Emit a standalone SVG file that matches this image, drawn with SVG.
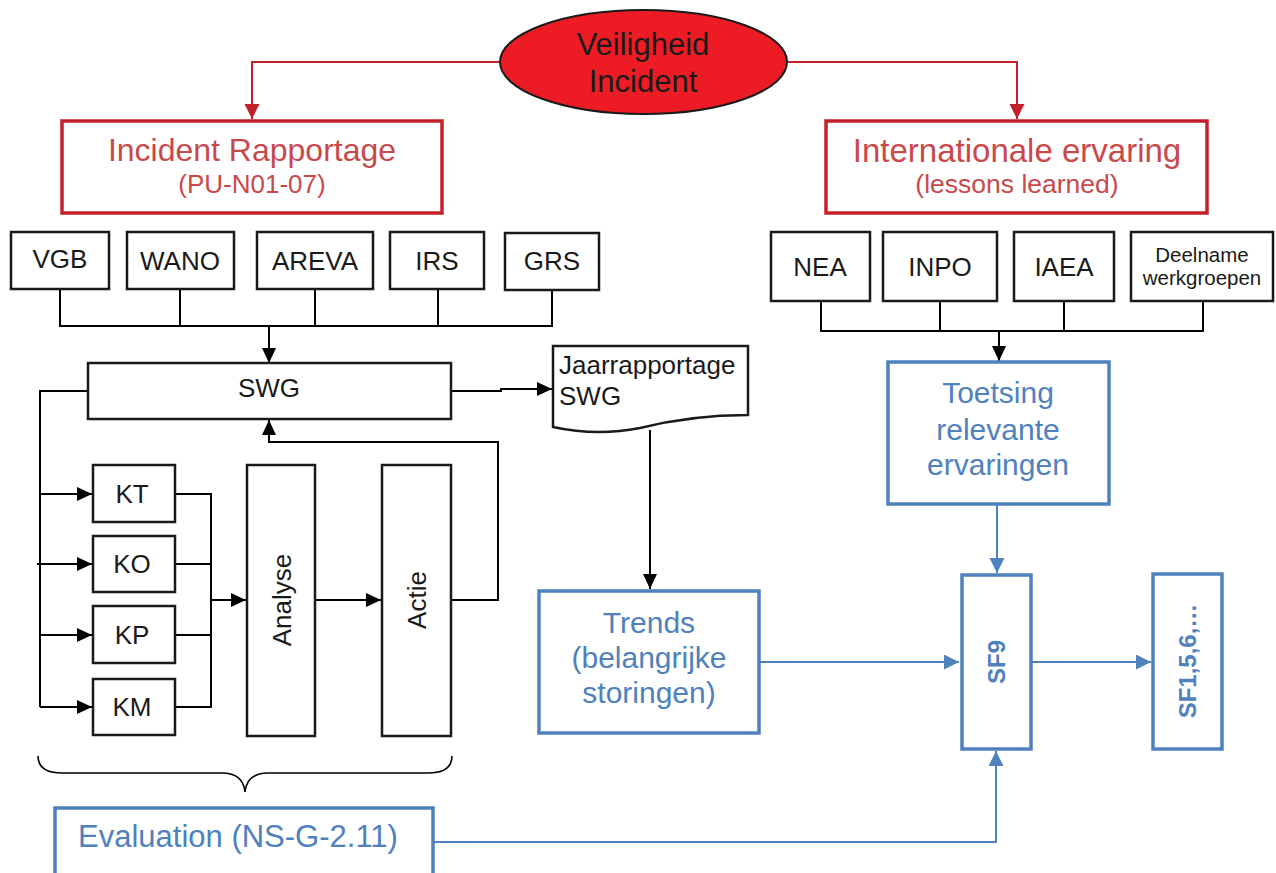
<svg xmlns="http://www.w3.org/2000/svg" width="1276" height="873" viewBox="0 0 1276 873">
  <defs>
    <marker id="ab" markerUnits="userSpaceOnUse" markerWidth="16" markerHeight="16" refX="15" refY="7" orient="auto">
      <path d="M0,0 L15,7 L0,14 Z" fill="#000"/>
    </marker>
    <marker id="ar" markerUnits="userSpaceOnUse" markerWidth="16" markerHeight="16" refX="15" refY="7.5" orient="auto">
      <path d="M0,0 L15,7.5 L0,15 Z" fill="#c4202b"/>
    </marker>
    <marker id="au" markerUnits="userSpaceOnUse" markerWidth="16" markerHeight="16" refX="15" refY="7.5" orient="auto">
      <path d="M0,0 L15,7.5 L0,15 Z" fill="#4f81bd"/>
    </marker>
  </defs>
  <style>
    text { font-family: "Liberation Sans", Arial, sans-serif; }
    .box { fill: #fff; stroke: #1a1a1a; stroke-width: 2.5; }
    .red { fill: #fff; stroke: #c4202b; stroke-width: 3.5; }
    .blue { fill: #fff; stroke: #4f81bd; stroke-width: 3.5; }
    .t { fill: #1a1a1a; font-size: 26px; }
    .tr { fill: #c9494b; text-anchor: middle; }
    .tb { fill: #4f81bd; text-anchor: middle; font-size: 30px; }
    .c { text-anchor: middle; }
    .lk { fill: none; stroke: #000; stroke-width: 2; }
    .lr { fill: none; stroke: #c4202b; stroke-width: 2; }
    .lu { fill: none; stroke: #4f81bd; stroke-width: 2; }
  </style>

  <!-- connectors -->
  <g id="connectors">
    <!-- incident splits both ways -->
    <path class="lr" d="M500,62 H252 V119" marker-end="url(#ar)"/>
    <path class="lr" d="M787,62 H1017 V119" marker-end="url(#ar)"/>
    <!-- national sources to SWG -->
    <path class="lk" d="M60,289 V326 H552 V290 M180,289 V326 M315,289 V326 M438,289 V326"/>
    <path class="lk" d="M269,326 V363" marker-end="url(#ab)"/>
    <!-- international sources to review -->
    <path class="lk" d="M821,301 V331 H1203 V301 M940,301 V331 M1064,301 V331"/>
    <path class="lk" d="M999,331 V361" marker-end="url(#ab)"/>
    <!-- SWG to annual report -->
    <path class="lk" d="M451,391 H501 V389 H552" marker-end="url(#ab)"/>
    <!-- SWG distribution bus -->
    <path class="lk" d="M88,391 H40 V707"/>
    <path class="lk" d="M37,564 H40"/>
    <path class="lk" d="M40,494 H92" marker-end="url(#ab)"/>
    <path class="lk" d="M40,564 H92" marker-end="url(#ab)"/>
    <path class="lk" d="M40,635 H92" marker-end="url(#ab)"/>
    <path class="lk" d="M40,707 H92" marker-end="url(#ab)"/>
    <!-- K boxes to analysis -->
    <path class="lk" d="M175,494 H211 V707 H175 M175,564 H211 M175,635 H211"/>
    <path class="lk" d="M211,600 H246" stroke-width="3" marker-end="url(#ab)"/>
    <path class="lk" d="M315,600 H381" marker-end="url(#ab)"/>
    <!-- action feedback to SWG -->
    <path class="lk" d="M451,600 H498 V442 H269 V420" marker-end="url(#ab)"/>
    <!-- annual report to trends -->
    <path class="lk" d="M650,430 V589" marker-end="url(#ab)"/>
    <!-- blue flows into SF9 and onward -->
    <path class="lu" d="M997,504 V573" marker-end="url(#au)"/>
    <path class="lu" d="M760,662 H959" marker-end="url(#au)"/>
    <path class="lu" d="M1032,662 H1151" marker-end="url(#au)"/>
    <path class="lu" d="M433,842 H996 V751" marker-end="url(#au)"/>
    <!-- brace grouping the SWG process -->
    <path fill="none" stroke="#000" stroke-width="1.6" d="M38,756 Q38,773 62,773 H222 Q243,773 245,792 Q247,773 268,773 H428 Q452,773 452,756"/>
  </g>

  <g id="incident">
    <ellipse cx="643.5" cy="62" rx="143.5" ry="52" fill="#ed1c24" stroke="#1a1a1a" stroke-width="2"/>
    <text class="c" x="643" y="55" font-size="31" fill="#1a1a1a">Veiligheid</text>
    <text class="c" x="643" y="92" font-size="31" fill="#1a1a1a">Incident</text>
  </g>

  <g id="incident-rapportage">
    <rect class="red" x="62" y="121" width="380" height="92"/>
    <text class="tr" x="252" y="161" font-size="32">Incident Rapportage</text>
    <text class="tr" x="252" y="193" font-size="26">(PU-N01-07)</text>
  </g>

  <g id="internationale-ervaring">
    <rect class="red" x="826" y="121" width="381" height="92"/>
    <text class="tr" x="1017" y="162" font-size="33">Internationale ervaring</text>
    <text class="tr" x="1017" y="193" font-size="26.5">(lessons learned)</text>
  </g>

  <g id="vgb"><rect class="box" x="11" y="232" width="98" height="57"/><text class="t c" x="60" y="268">VGB</text></g>
  <g id="wano"><rect class="box" x="127" y="232" width="107" height="57"/><text class="t c" x="180" y="270">WANO</text></g>
  <g id="areva"><rect class="box" x="257" y="232" width="116" height="57"/><text class="t c" x="315" y="270">AREVA</text></g>
  <g id="irs"><rect class="box" x="390" y="232" width="94" height="57"/><text class="t c" x="437" y="270">IRS</text></g>
  <g id="grs"><rect class="box" x="505" y="233" width="94" height="57"/><text class="t c" x="552" y="270">GRS</text></g>

  <g id="nea"><rect class="box" x="771" y="232" width="99" height="69"/><text class="t c" x="820" y="276">NEA</text></g>
  <g id="inpo"><rect class="box" x="883" y="232" width="114" height="69"/><text class="t c" x="940" y="276">INPO</text></g>
  <g id="iaea"><rect class="box" x="1014" y="232" width="100" height="69"/><text class="t c" x="1064" y="276">IAEA</text></g>
  <g id="deelname">
    <rect class="box" x="1131" y="232" width="142" height="69"/>
    <text class="c" x="1202" y="262" font-size="20.5" fill="#1a1a1a">Deelname</text>
    <text class="c" x="1202" y="285" font-size="20.5" fill="#1a1a1a">werkgroepen</text>
  </g>

  <g id="swg">
    <rect class="box" x="88" y="363" width="363" height="56"/>
    <text class="t c" x="269" y="397">SWG</text>
  </g>

  <g id="jaarrapportage">
    <path class="box" d="M553,346 H748 V415 C720,415 680,418 640,428 C610,434 580,433 553,427 Z"/>
    <text class="t" x="559" y="374">Jaarrapportage</text>
    <text class="t" x="559" y="405">SWG</text>
  </g>

  <g id="kt"><rect class="box" x="93" y="465" width="82" height="57"/><text class="t c" x="132" y="503">KT</text></g>
  <g id="ko"><rect class="box" x="93" y="536" width="82" height="56"/><text class="t c" x="132" y="573">KO</text></g>
  <g id="kp"><rect class="box" x="93" y="606" width="82" height="57"/><text class="t c" x="132" y="644">KP</text></g>
  <g id="km"><rect class="box" x="93" y="679" width="82" height="56"/><text class="t c" x="132" y="716">KM</text></g>

  <g id="analyse">
    <rect class="box" x="247" y="465" width="68" height="271"/>
    <text class="t c" transform="translate(291,600) rotate(-90)">Analyse</text>
  </g>
  <g id="actie">
    <rect class="box" x="382" y="465" width="69" height="271"/>
    <text class="t c" transform="translate(426,600) rotate(-90)">Actie</text>
  </g>

  <g id="toetsing">
    <rect class="blue" x="888" y="362" width="221" height="142"/>
    <text class="tb" x="998" y="403">Toetsing</text>
    <text class="tb" x="998" y="440">relevante</text>
    <text class="tb" x="998" y="475">ervaringen</text>
  </g>

  <g id="trends">
    <rect class="blue" x="539" y="591" width="220" height="142"/>
    <text class="tb" x="649" y="633">Trends</text>
    <text class="tb" x="649" y="668">(belangrijke</text>
    <text class="tb" x="649" y="703">storingen)</text>
  </g>

  <g id="sf9">
    <rect class="blue" x="962" y="575" width="69" height="174"/>
    <text class="c" transform="translate(1005,662) rotate(-90)" font-size="24" font-weight="bold" fill="#4f81bd">SF9</text>
  </g>

  <g id="sf-other">
    <rect class="blue" x="1153" y="574" width="69" height="175"/>
    <text class="c" transform="translate(1196,661) rotate(-90)" font-size="24" font-weight="bold" fill="#4f81bd">SF1,5,6,…</text>
  </g>

  <g id="evaluation">
    <rect class="blue" x="55" y="808" width="378" height="80"/>
    <text x="78" y="847" font-size="31" fill="#4f81bd">Evaluation (NS-G-2.11)</text>
  </g>
</svg>
